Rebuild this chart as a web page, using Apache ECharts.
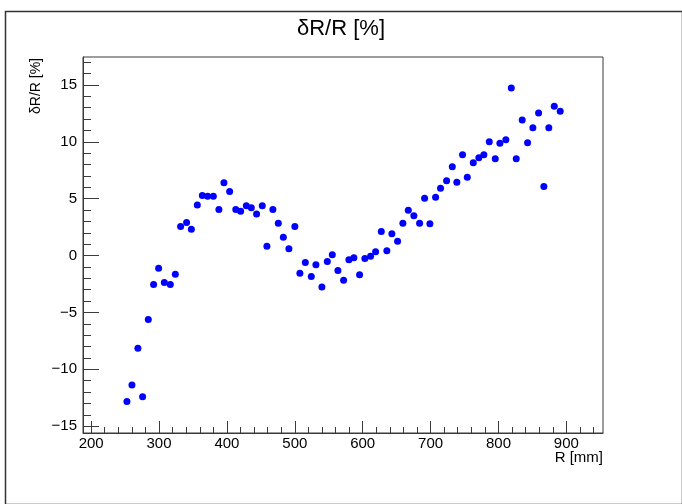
<!DOCTYPE html>
<html>
<head>
<meta charset="utf-8">
<script src="https://cdn.jsdelivr.net/npm/echarts@6/dist/echarts.min.js"></script>
<style>
  html, body { margin: 0; padding: 0; background: #fff; }
  #chart { width: 682px; height: 504px; }
</style>
</head>
<body>
<div id="chart"></div>
<script>
// R [mm] of every measured point
var rValues = [252.7, 260.1, 268.9, 275.8, 284.2, 292.0, 299.4, 307.8, 316.6, 324.0,
  331.8, 340.6, 347.6, 356.4, 363.8, 371.6, 380.0, 388.2, 395.6, 404.0,
  413.1, 420.2, 428.6, 435.9, 443.7, 452.1, 458.9, 467.7, 475.7, 483.1,
  491.3, 500.1, 507.5, 515.5, 524.3, 531.1, 539.9, 547.9, 555.2, 563.5,
  571.9, 579.7, 587.0, 595.4, 603.2, 611.6, 619.0, 627.4, 635.6, 643.0,
  651.4, 659.2, 667.2, 675.4, 683.8, 691.2, 699.0, 707.4, 714.7, 723.6,
  732.0, 738.7, 747.1, 754.1, 762.9, 771.1, 778.5, 786.5, 795.3, 802.1,
  810.9, 818.9, 826.2, 835.0, 842.9, 850.7, 859.1, 866.9, 874.2, 882.2, 891.0];
// dR/R [%]
var dRValues = [-12.83, -11.38, -8.16, -12.41, -5.63, -2.55, -1.12, -2.38, -2.55, -1.65,
  2.55, 2.90, 2.32, 4.43, 5.28, 5.22, 5.22, 4.05, 6.40, 5.63,
  4.05, 3.90, 4.38, 4.20, 3.64, 4.38, 0.82, 4.05, 2.84, 1.61,
  0.59, 2.55, -1.56, -0.62, -1.85, -0.82, -2.76, -0.53, 0.06, -1.32,
  -2.17, -0.38, -0.20, -1.70, -0.26, -0.06, 0.33, 2.11, 0.41, 1.91,
  1.26, 2.84, 3.99, 3.49, 2.84, 5.04, 2.79, 5.13, 5.92, 6.58,
  7.81, 6.43, 8.86, 6.87, 8.16, 8.60, 8.86, 10.01, 8.51, 9.86,
  10.18, 14.73, 8.51, 11.91, 9.92, 11.24, 12.53, 6.07, 11.24, 13.12, 12.68];

var xTickLabels = [200, 300, 400, 500, 600, 700, 800, 900];
var xMinorTicks = [];
for (var t = 200; t <= 950; t += 20) xMinorTicks.push(t);
var yTickLabels = [-15, -10, -5, 0, 5, 10, 15];
var yMinorTicks = [];
for (var u = -15; u <= 17; u += 1) yMinorTicks.push(u);

var xRange = [188, 954];
var yRange = [-15.6, 17.45];

var points = rValues.map(function (r, i) { return [r, dRValues[i]]; });

var lineCol = '#3a3a3a';
var font = 'Liberation Sans, Arial, sans-serif';

// a label-less axis that only draws ticks at the given values
function tickAxis(range, pos, values, len) {
  return {
    type: 'value', min: range[0], max: range[1], position: pos,
    splitLine: { show: false },
    axisLine: { show: false, onZero: false },
    axisTick: { show: true, inside: true, length: len, customValues: values.slice(), lineStyle: { color: lineCol } },
    axisLabel: { show: false }
  };
}

var myChart = echarts.init(document.getElementById('chart'));
myChart.setOption({
  animation: false,
  title: {
    text: 'δR/R [%]',
    left: 'center',
    top: 13,
    textStyle: { fontFamily: font, fontSize: 22, fontWeight: 'normal', color: '#000' }
  },
  grid: {
    left: 83, right: 79, top: 57, bottom: 71,
    show: true, borderColor: lineCol, borderWidth: 1, backgroundColor: '#fff'
  },
  xAxis: [{
    type: 'value', min: xRange[0], max: xRange[1],
    splitLine: { show: false },
    axisLine: { show: true, onZero: false, lineStyle: { color: lineCol } },
    axisTick: { show: false },
    axisLabel: { customValues: xTickLabels, margin: 3, color: '#000', fontFamily: font, fontSize: 15 }
  },
    tickAxis(xRange, 'bottom', xTickLabels, 12),
    tickAxis(xRange, 'bottom', xMinorTicks, 6)
  ],
  yAxis: [{
    type: 'value', min: yRange[0], max: yRange[1],
    splitLine: { show: false },
    axisLine: { show: true, onZero: false, lineStyle: { color: lineCol } },
    axisTick: { show: false },
    axisLabel: { customValues: yTickLabels, margin: 6, color: '#000', fontFamily: font, fontSize: 15,
      formatter: function (v) { return v < 0 ? '\u2212' + Math.abs(v) : '' + v; } }
  },
    tickAxis(yRange, 'left', yTickLabels, 16),
    tickAxis(yRange, 'left', yMinorTicks, 8)
  ],
  graphic: [{
    type: 'rect', left: 3, top: 9, z: -10, silent: true,
    shape: { width: 677, height: 493 },
    style: { fill: 'none', stroke: '#333', lineWidth: 1.5 }
  }, {
    type: 'text', x: 36, y: 58, rotation: Math.PI / 2,
    style: { text: 'δR/R [%]', fill: '#000', font: '14px ' + font, align: 'right', verticalAlign: 'middle' }
  }, {
    type: 'text', x: 603, y: 450,
    style: { text: 'R [mm]', fill: '#000', font: '15px ' + font, align: 'right', verticalAlign: 'top' }
  }],
  series: [{
    type: 'scatter',
    xAxisIndex: 0, yAxisIndex: 0,
    symbol: 'circle',
    symbolSize: 7,
    itemStyle: { color: '#0000ff', opacity: 1 },
    data: points
  }]
});
</script>
</body>
</html>
